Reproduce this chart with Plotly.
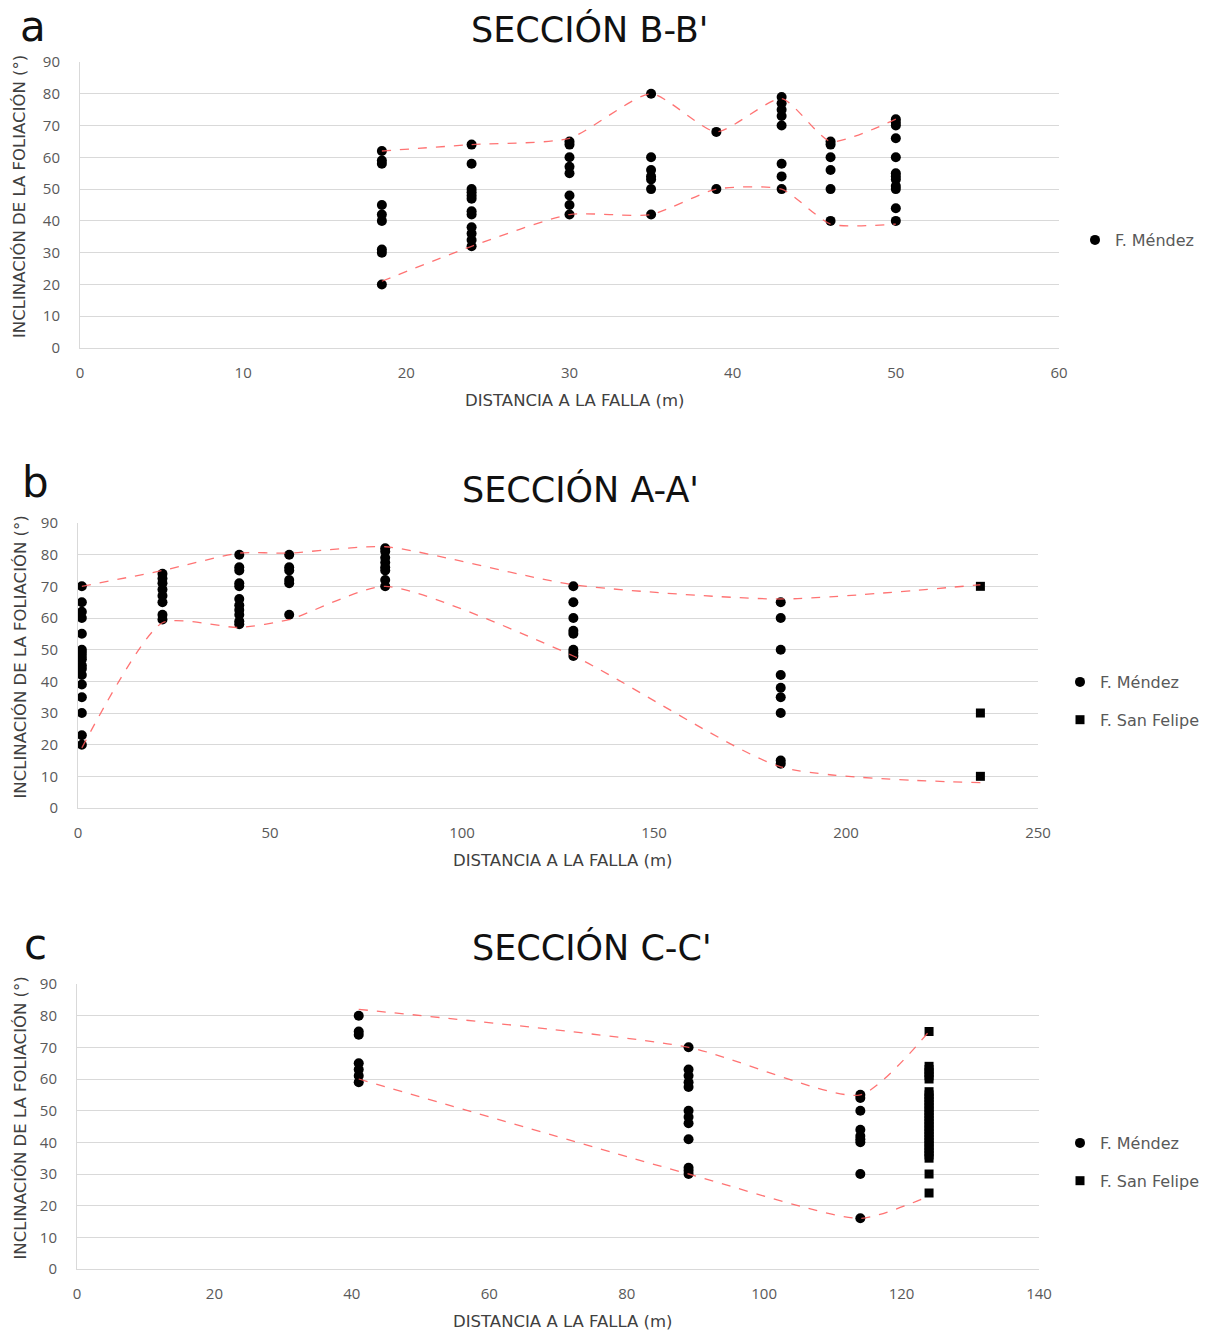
import plotly.graph_objects as go

# ---------------- Panel a: SECCIÓN B-B' ----------------
a_dist = [18.5, 24, 30, 35, 39, 43, 46, 50]
a_mendez = [
    [62, 59, 58, 45, 42, 40, 31, 30, 20],
    [64, 58, 50, 49, 48, 47, 43, 42, 38, 36, 34, 32],
    [65, 64, 60, 57, 55, 48, 45, 42],
    [80, 60, 56, 54, 53, 50, 42],
    [68, 50],
    [79, 77, 75, 73, 70, 58, 54, 50],
    [65, 64, 60, 56, 50, 40],
    [72, 71, 70, 66, 60, 55, 54, 53, 51, 50, 44, 40],
]
a_upper = [62, 64, 66, 80, 68, 78.5, 65, 72]
a_lower = [21, 32, 42, 42, 50, 50, 39, 39]

# ---------------- Panel b: SECCIÓN A-A' ----------------
b_dist = [1, 22, 42, 55, 80, 129, 183]
b_mendez = [
    [70, 65, 62, 60, 55, 50, 49, 48, 47, 45, 44, 42, 39, 35, 30, 23, 20],
    [74, 72.5, 71, 69, 67, 65, 61, 59.5],
    [80, 76, 75, 71, 70, 66, 64, 62.5, 61, 59, 58],
    [80, 76, 75, 72, 71, 61],
    [82, 81, 79, 77.5, 76, 75, 72, 70],
    [70, 65, 60, 56, 55, 50, 49, 48],
    [65, 60, 50, 42, 38, 35, 30, 15, 14],
]
b_sf_dist = [235]
b_sanfelipe = [[70, 30, 10]]
b_env_x = [1, 22, 42, 55, 80, 129, 183, 235]
b_upper = [70, 75, 80.5, 80.5, 82.5, 70.5, 66, 70.5]
b_lower = [19, 58.5, 57, 59.5, 70, 48, 13, 8]

# ---------------- Panel c: SECCIÓN C-C' ----------------
c_dist = [41, 89, 114]
c_mendez = [
    [80, 75, 74, 65, 63, 61, 59],
    [70, 63, 61, 59, 57.5, 50, 48, 46, 41, 32, 31, 30],
    [55, 54, 50, 44, 42, 41, 40, 30, 16],
]
c_sf_dist = [124]
c_sanfelipe = [[75, 64, 63, 62, 61, 60, 56, 55, 54, 53, 52, 51, 50, 49, 48, 47,
                46, 45, 44, 43, 42, 41, 40, 39, 38, 37, 36, 35, 30, 24]]
c_env_x = [41, 89, 114, 124]
c_upper = [82, 70, 55, 75]
c_lower = [60, 30, 16, 23]

titles = ["SECCIÓN B-B'", "SECCIÓN A-A'", "SECCIÓN C-C'"]
letters = ["a", "b", "c"]
x_ranges = [[0, 60], [0, 250], [0, 140]]
x_dticks = [10, 50, 20]
x_title = "DISTANCIA A LA FALLA (m)"
y_title = "INCLINACIÓN DE LA FOLIACIÓN (°)"

W, H = 1212, 1332
# plot areas in pixels: (left, right, top, bottom)
areas = [(80, 1059, 62, 348), (78, 1038, 523, 808), (77, 1039, 984, 1269)]
title_pos = [(589, 30), (580, 489), (592, 948)]
letter_pos = [(33, 0), (35, 456), (35, 918)]   # top of text box
legend_pos = [(1075, 240), (1060, 701), (1060, 1162)]

FONT = "Open Sans"
TFONT = "DejaVu Sans"
GREY = "#595959"
DARK = "#404040"
LINE_COL = "rgba(255,90,90,0.85)"
MS = 10


def flatten(dists, groups):
    xs, ys = [], []
    for d, g in zip(dists, groups):
        for v in g:
            xs.append(d)
            ys.append(v)
    return xs, ys


fig = go.Figure()

panels = [
    (a_dist, a_mendez, None, None, a_dist, a_upper, a_lower),
    (b_dist, b_mendez, b_sf_dist, b_sanfelipe, b_env_x, b_upper, b_lower),
    (c_dist, c_mendez, c_sf_dist, c_sanfelipe, c_env_x, c_upper, c_lower),
]

for i, (md, mv, sd, sv, ex, eu, el) in enumerate(panels):
    xa = "x" if i == 0 else f"x{i+1}"
    ya = "y" if i == 0 else f"y{i+1}"
    lg = "legend" if i == 0 else f"legend{i+1}"
    x, y = flatten(md, mv)
    fig.add_trace(go.Scatter(x=x, y=y, mode="markers", name="F. Méndez",
                             marker=dict(symbol="circle", size=MS, color="black"),
                             xaxis=xa, yaxis=ya, legend=lg, legendgroup=f"m{i}"))
    if sd is not None:
        x, y = flatten(sd, sv)
        fig.add_trace(go.Scatter(x=x, y=y, mode="markers", name="F. San Felipe",
                                 marker=dict(symbol="square", size=MS - 1, color="black"),
                                 xaxis=xa, yaxis=ya, legend=lg, legendgroup=f"s{i}"))
    for env in (eu, el):
        fig.add_trace(go.Scatter(x=ex, y=env, mode="lines", showlegend=False,
                                 line=dict(color=LINE_COL, width=1.3, dash="dash",
                                           shape="spline", smoothing=0.6),
                                 xaxis=xa, yaxis=ya, hoverinfo="skip"))

layout = dict(width=W, height=H, margin=dict(l=0, r=0, t=0, b=0, pad=0, autoexpand=False),
              paper_bgcolor="white", plot_bgcolor="white",
              font=dict(family=FONT, color=GREY, size=15),
              annotations=[])

for i, (l, r, t, b) in enumerate(areas):
    sx = "" if i == 0 else str(i + 1)
    layout[f"xaxis{sx}"] = dict(
        domain=[l / W, r / W], range=x_ranges[i], dtick=x_dticks[i], tick0=0,
        anchor=f"y{sx}", showgrid=False, zeroline=False, showline=True,
        linecolor="#d9d9d9", linewidth=1, ticks="", ticklabelstandoff=11,
        automargin=False, tickfont=dict(size=15, color=GREY))
    layout[f"yaxis{sx}"] = dict(
        domain=[1 - b / H, 1 - t / H], range=[0, 90], dtick=10, tick0=0,
        anchor=f"x{sx}", showgrid=True, gridcolor="#d9d9d9", gridwidth=1,
        zeroline=False, showline=True, linecolor="#d9d9d9", linewidth=1,
        ticks="", ticklabelstandoff=16, automargin=False,
        tickfont=dict(size=15, color=GREY))
    lname = "legend" if i == 0 else f"legend{i+1}"
    layout[lname] = dict(x=legend_pos[i][0] / W, y=1 - legend_pos[i][1] / H,
                         xanchor="left", yanchor="middle", orientation="v",
                         itemwidth=30, tracegroupgap=14, traceorder="grouped",
                         font=dict(size=16, color=GREY, family=TFONT),
                         bgcolor="rgba(0,0,0,0)")
    ann = layout["annotations"]
    ann.append(dict(text=titles[i], x=title_pos[i][0] / W, y=1 - title_pos[i][1] / H,
                    xref="paper", yref="paper", xanchor="center", yanchor="middle",
                    showarrow=False, font=dict(size=35, color="#111111", family=TFONT)))
    ann.append(dict(text=letters[i], x=letter_pos[i][0] / W, y=1 - letter_pos[i][1] / H,
                    xref="paper", yref="paper", xanchor="center", yanchor="top",
                    showarrow=False, font=dict(size=42, color="#111111", family=TFONT)))
    ann.append(dict(text=x_title, x=((l + r) / 2 + 5) / W, y=1 - (b + 52) / H,
                    xref="paper", yref="paper", xanchor="center", yanchor="middle",
                    showarrow=False, font=dict(size=16.5, color=DARK, family=TFONT)))
    ann.append(dict(text=y_title, x=20 / W, y=1 - ((t + b) / 2 - 8) / H,
                    xref="paper", yref="paper", xanchor="center", yanchor="middle",
                    textangle=-90, showarrow=False,
                    font=dict(size=16.5, color=DARK, family=TFONT)))

fig.update_layout(**layout)
fig.write_html("out.html")
